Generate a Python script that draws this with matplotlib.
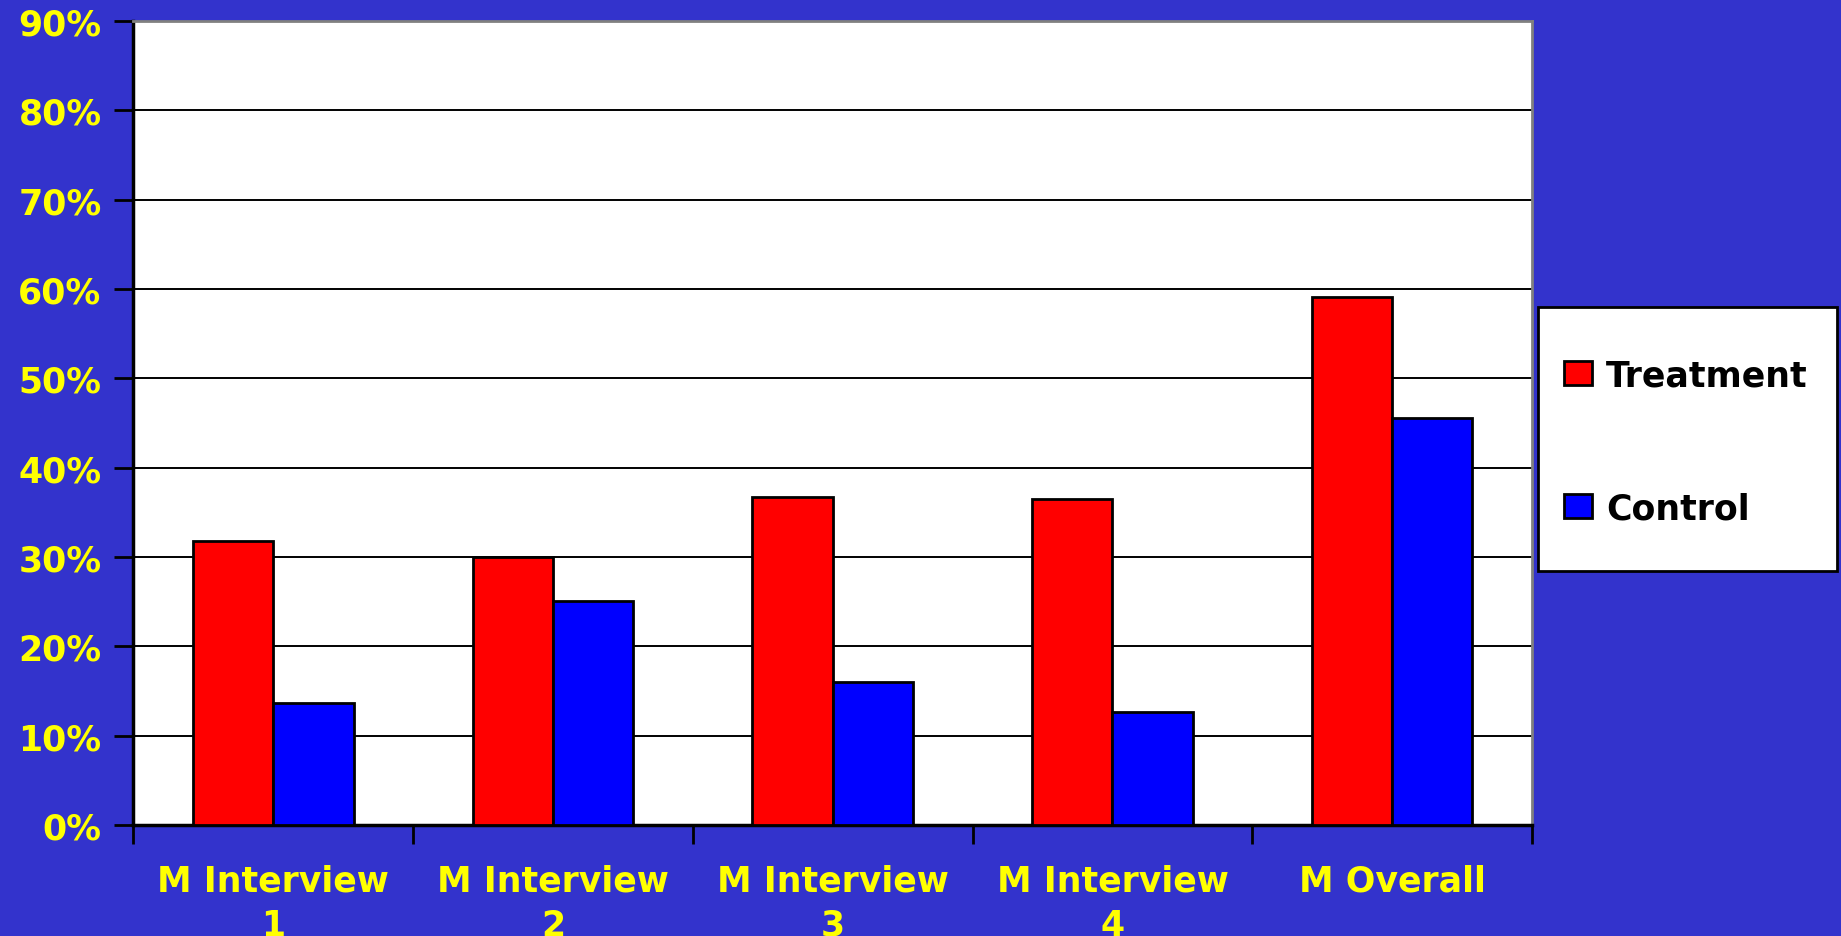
import numpy as np
import matplotlib.pyplot as plt
from matplotlib.patches import Rectangle

categories = ['M Interview\n1', 'M Interview\n2', 'M Interview\n3', 'M Interview\n4', 'M Overall']
treatment = [31.8, 30.0, 36.7, 36.5, 59.1]
control = [13.7, 25.1, 16.0, 12.6, 45.6]
y_ticks = [0, 10, 20, 30, 40, 50, 60, 70, 80, 90]

bg = '#3333CC'
label_color = '#FFFF00'
fs = 25
plt.rcParams['font.family'] = ['DejaVu Sans']
plt.rcParams['font.weight'] = 'bold'

fig = plt.figure(figsize=(18.41, 9.37), dpi=100, facecolor=bg)
ax = fig.add_axes([0.0725, 0.1185, 0.7597, 0.858])
ax.set_facecolor('white')

x = np.arange(len(categories))
w = 0.287
ax.bar(x - w / 2, treatment, w, color='#FF0000', edgecolor='black', linewidth=2, label='Treatment', zorder=3)
ax.bar(x + w / 2, control, w, color='#0000FF', edgecolor='black', linewidth=2, label='Control', zorder=3)

ax.set_xlim(-0.5, len(categories) - 0.5)
ax.set_ylim(0, 90)
ax.set_yticks(y_ticks)
ax.set_yticklabels([f'{t}%' for t in y_ticks])
ax.yaxis.grid(True, color='black', linewidth=1.4, zorder=1)

# category labels in the middle, ticks on the boundaries
ax.set_xticks(x)
ax.set_xticklabels(categories, linespacing=1.36)
ax.set_xticks(np.arange(len(categories) + 1) - 0.5, minor=True)
ax.tick_params(axis='x', which='major', length=0, pad=28)
ax.tick_params(axis='x', which='minor', length=14, width=2, color='black')
ax.tick_params(axis='y', length=14, width=2, color='black', pad=9)
for lbl in ax.get_xticklabels() + ax.get_yticklabels():
    lbl.set_color(label_color)
    lbl.set_fontsize(fs)
    lbl.set_fontweight('bold')

for side in ['left', 'bottom']:
    ax.spines[side].set_color('black')
    ax.spines[side].set_linewidth(2.5)
for side in ['top', 'right']:
    ax.spines[side].set_color('#808080')
    ax.spines[side].set_linewidth(2)

# legend box drawn separately so its size can be set
fig.patches.append(Rectangle((1538 / 1841, 1 - 572 / 937), 299 / 1841, 264 / 937,
                             transform=fig.transFigure, facecolor='white',
                             edgecolor='black', linewidth=2, zorder=5))
leg = fig.legend(loc='upper left', bbox_to_anchor=(1547 / 1841, 1 - 342 / 937),
                 frameon=False, borderpad=0, labelspacing=2.85,
                 handlelength=0.8, handleheight=0.7, handletextpad=0.4,
                 prop={'weight': 'bold', 'size': fs})
leg.set_zorder(6)

fig.savefig('out.png', dpi=100, facecolor=bg)
